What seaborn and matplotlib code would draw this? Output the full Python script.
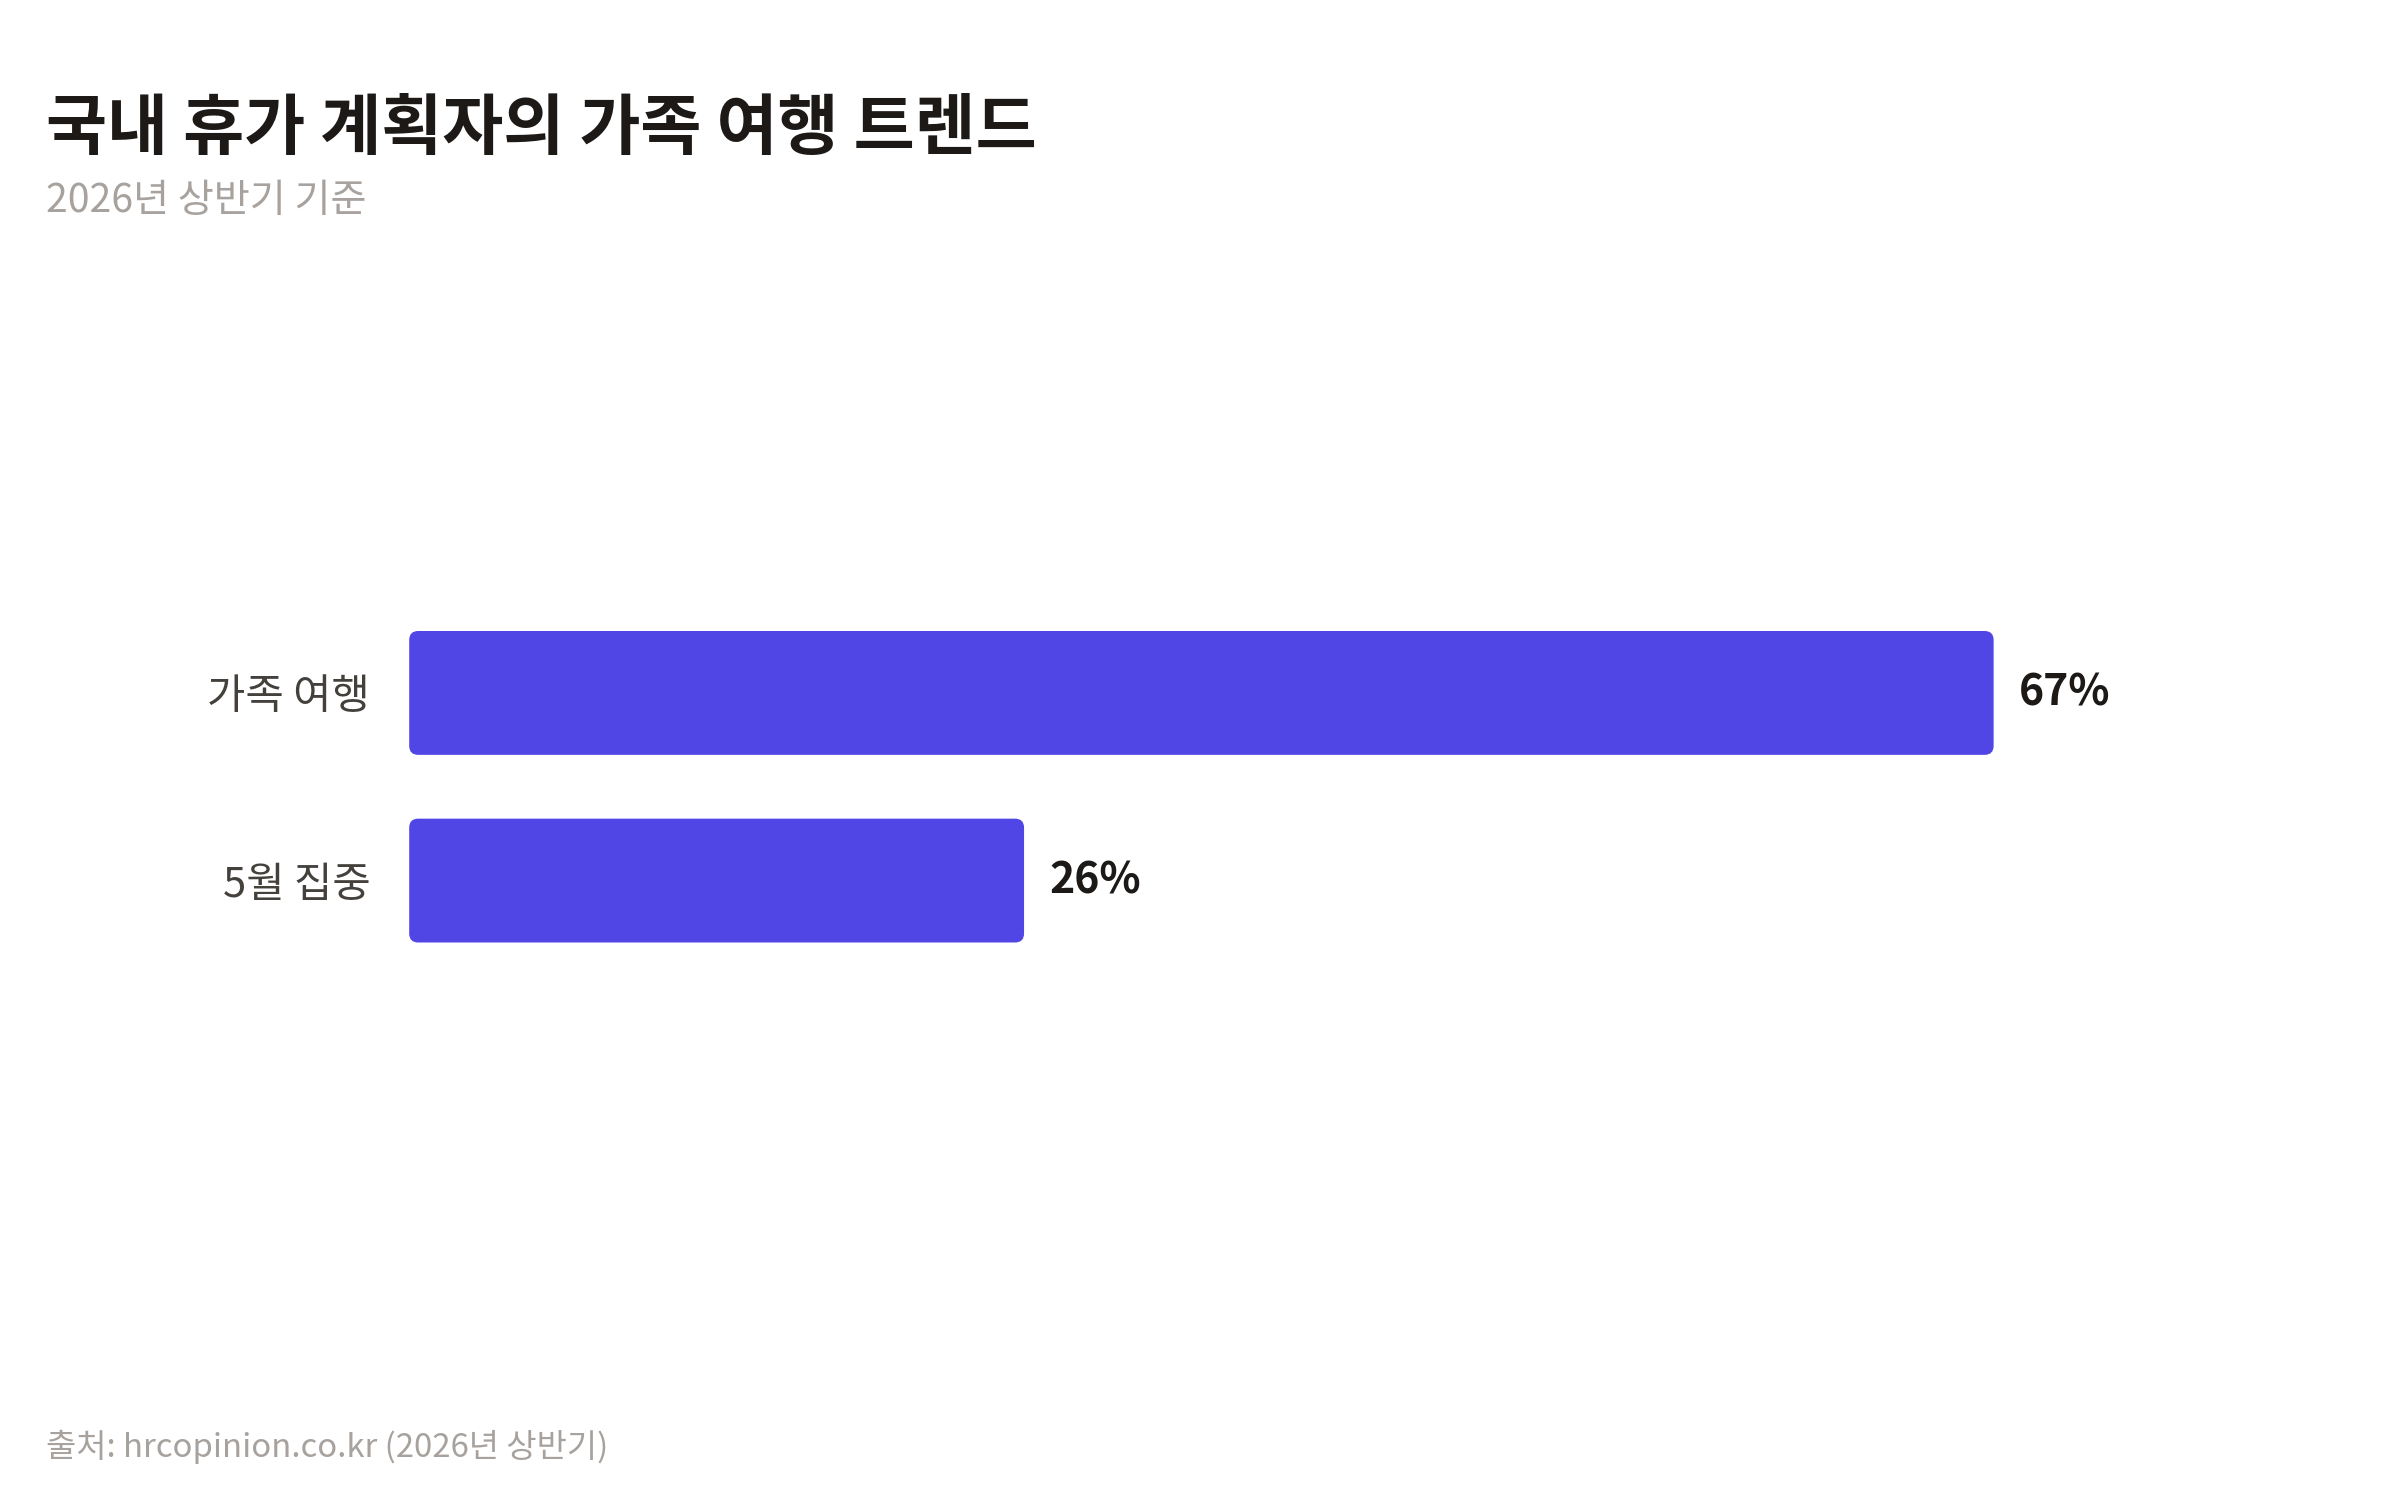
"""Horizontal bar chart: family travel trend among domestic vacation planners."""

import matplotlib

matplotlib.use("Agg")

import matplotlib.pyplot as plt
import pandas as pd
import seaborn as sns
from matplotlib.patches import FancyBboxPatch

categories = ["가족 여행", "5월 집중"]
shares = [67, 26]
value_labels = ["67%", "26%"]

TITLE = "국내 휴가 계획자의 가족 여행 트렌드"
SUBTITLE = "2026년 상반기 기준"
SOURCE = "출처: hrcopinion.co.kr (2026년 상반기)"

BAR_COLOR = "#5046E5"
DARK = "#1C1917"
LABEL_GRAY = "#44403C"
MUTED = "#A8A29E"

sns.set_theme(style="white")
plt.rcParams["font.family"] = ["Noto Sans CJK KR", "DejaVu Sans"]

frame = pd.DataFrame({"category": categories, "share": shares})

AX_W, AX_H = 0.7295, 0.2502
fig = plt.figure(figsize=(12, 7.5), dpi=200)
ax = fig.add_axes([0.1705, 0.3504, AX_W, AX_H])

sns.barplot(data=frame, x="share", y="category", color=BAR_COLOR, width=0.66,
            saturation=1, ax=ax)

xmax = max(shares) * 1.105
ax.set_xlim(0, xmax)
ax.set_ylim(1.5, -0.5)

# swap the square bars for rounded ones (radius ~9px in both directions)
x_unit_px = AX_W * 2400 / xmax
y_unit_px = AX_H * 1500 / 2.0
radius = 9 / x_unit_px
aspect = (9 / y_unit_px) / radius
for patch in list(ax.patches):
    x0, y0 = patch.get_x(), patch.get_y()
    w, h = patch.get_width(), patch.get_height()
    patch.remove()
    ax.add_patch(FancyBboxPatch(
        (x0, y0), w, h,
        boxstyle=f"round,pad=0,rounding_size={radius}",
        mutation_aspect=aspect,
        facecolor=BAR_COLOR, edgecolor="none", linewidth=0,
    ))

for i, (val, text) in enumerate(zip(shares, value_labels)):
    ax.text(val + 25 / x_unit_px, i, text, va="center", ha="left",
            fontsize=15.4, fontweight="bold", color=DARK)

ax.set_xlabel("")
ax.set_ylabel("")
ax.set_xticks([])
ax.tick_params(axis="y", length=0, pad=14, labelsize=15, labelcolor=LABEL_GRAY)
sns.despine(ax=ax, left=True, bottom=True)

fig.text(0.019, 0.9007, TITLE, fontsize=23.9, fontweight="bold", color=DARK,
         ha="left", va="baseline")
fig.text(0.019, 0.8587, SUBTITLE, fontsize=14.1, color=MUTED,
         ha="left", va="baseline")
fig.text(0.019, 0.029, SOURCE, fontsize=11.85, color=MUTED,
         ha="left", va="baseline")

fig.savefig("out.png", dpi=200, facecolor="white")
plt.close(fig)
